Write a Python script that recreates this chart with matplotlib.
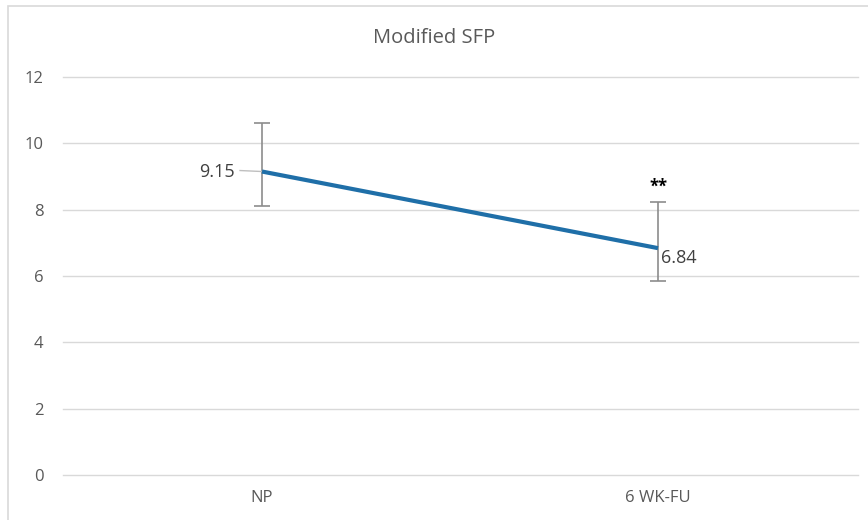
import matplotlib
matplotlib.use("Agg")
import matplotlib.pyplot as plt
from matplotlib.patches import Rectangle

categories = ["NP", "6 WK-FU"]
means = [9.15, 6.84]
upper = [10.62, 8.22]
lower = [8.11, 5.85]
yticks = [0, 2, 4, 6, 8, 10, 12]
title = "Modified SFP"

plt.rcParams['font.family'] = ['Open Sans', 'DejaVu Sans']

W, H = 868, 520
fig = plt.figure(figsize=(W/100, H/100), dpi=100)
fig.patch.set_facecolor("white")
fig.patches.append(Rectangle((8/W, -0.02), 1.05, 1 - 6/H + 0.02, transform=fig.transFigure,
                             fill=False, edgecolor="#d9d9d9", linewidth=1.2))

ax = fig.add_axes([63/W, 1 - 475/H, (858-63)/W, (475-77)/H])
x = list(range(len(categories)))
ax.set_xlim(-199/396, 1 + 200/396)
ax.set_ylim(0, 12)

ax.set_yticks(yticks)
ax.set_yticklabels([str(t) for t in yticks])
ax.grid(axis='y', color="#d9d9d9", linewidth=1)
for gl in ax.get_ygridlines():
    gl.set_clip_on(False)
ax.set_axisbelow(True)
for s in ax.spines.values():
    s.set_visible(False)
ax.tick_params(axis='both', length=0, labelsize=12, colors="#595959")
ax.tick_params(axis='y', pad=14)
ax.tick_params(axis='x', pad=11)
ax.set_xticks(x)
ax.set_xticklabels(categories)

yerr = [[m - l for m, l in zip(means, lower)], [u - m for m, u in zip(means, upper)]]
ax.errorbar(x, means, yerr=yerr, fmt='none', ecolor="#8c8c8c", elinewidth=1.2,
            capsize=6, capthick=1.2, zorder=2)
ax.plot(x, means, color="#1f6fa8", linewidth=3, solid_capstyle='butt', zorder=3)

# data labels
ax.plot([x[0] - 22/396, x[0]], [means[0] + 0.03, means[0]], color="#bfbfbf", linewidth=1, zorder=2)
ax.text(x[0] - 27/396, means[0], f"{means[0]:.2f}", ha='right', va='center',
        fontsize=13, color="#404040")
ax.text(x[1] + 3/396, means[1] - 0.3, f"{means[1]:.2f}", ha='left', va='center',
        fontsize=13, color="#404040")
ax.text(x[1], upper[1] + 0.2, "**", ha='center', va='bottom', fontsize=12,
        fontweight='bold', color="black")

fig.text(0.5, 1 - 38/H, title, ha='center', va='center', fontsize=14.5, color="#595959")

fig.savefig("out.png", dpi=100, facecolor="white")
